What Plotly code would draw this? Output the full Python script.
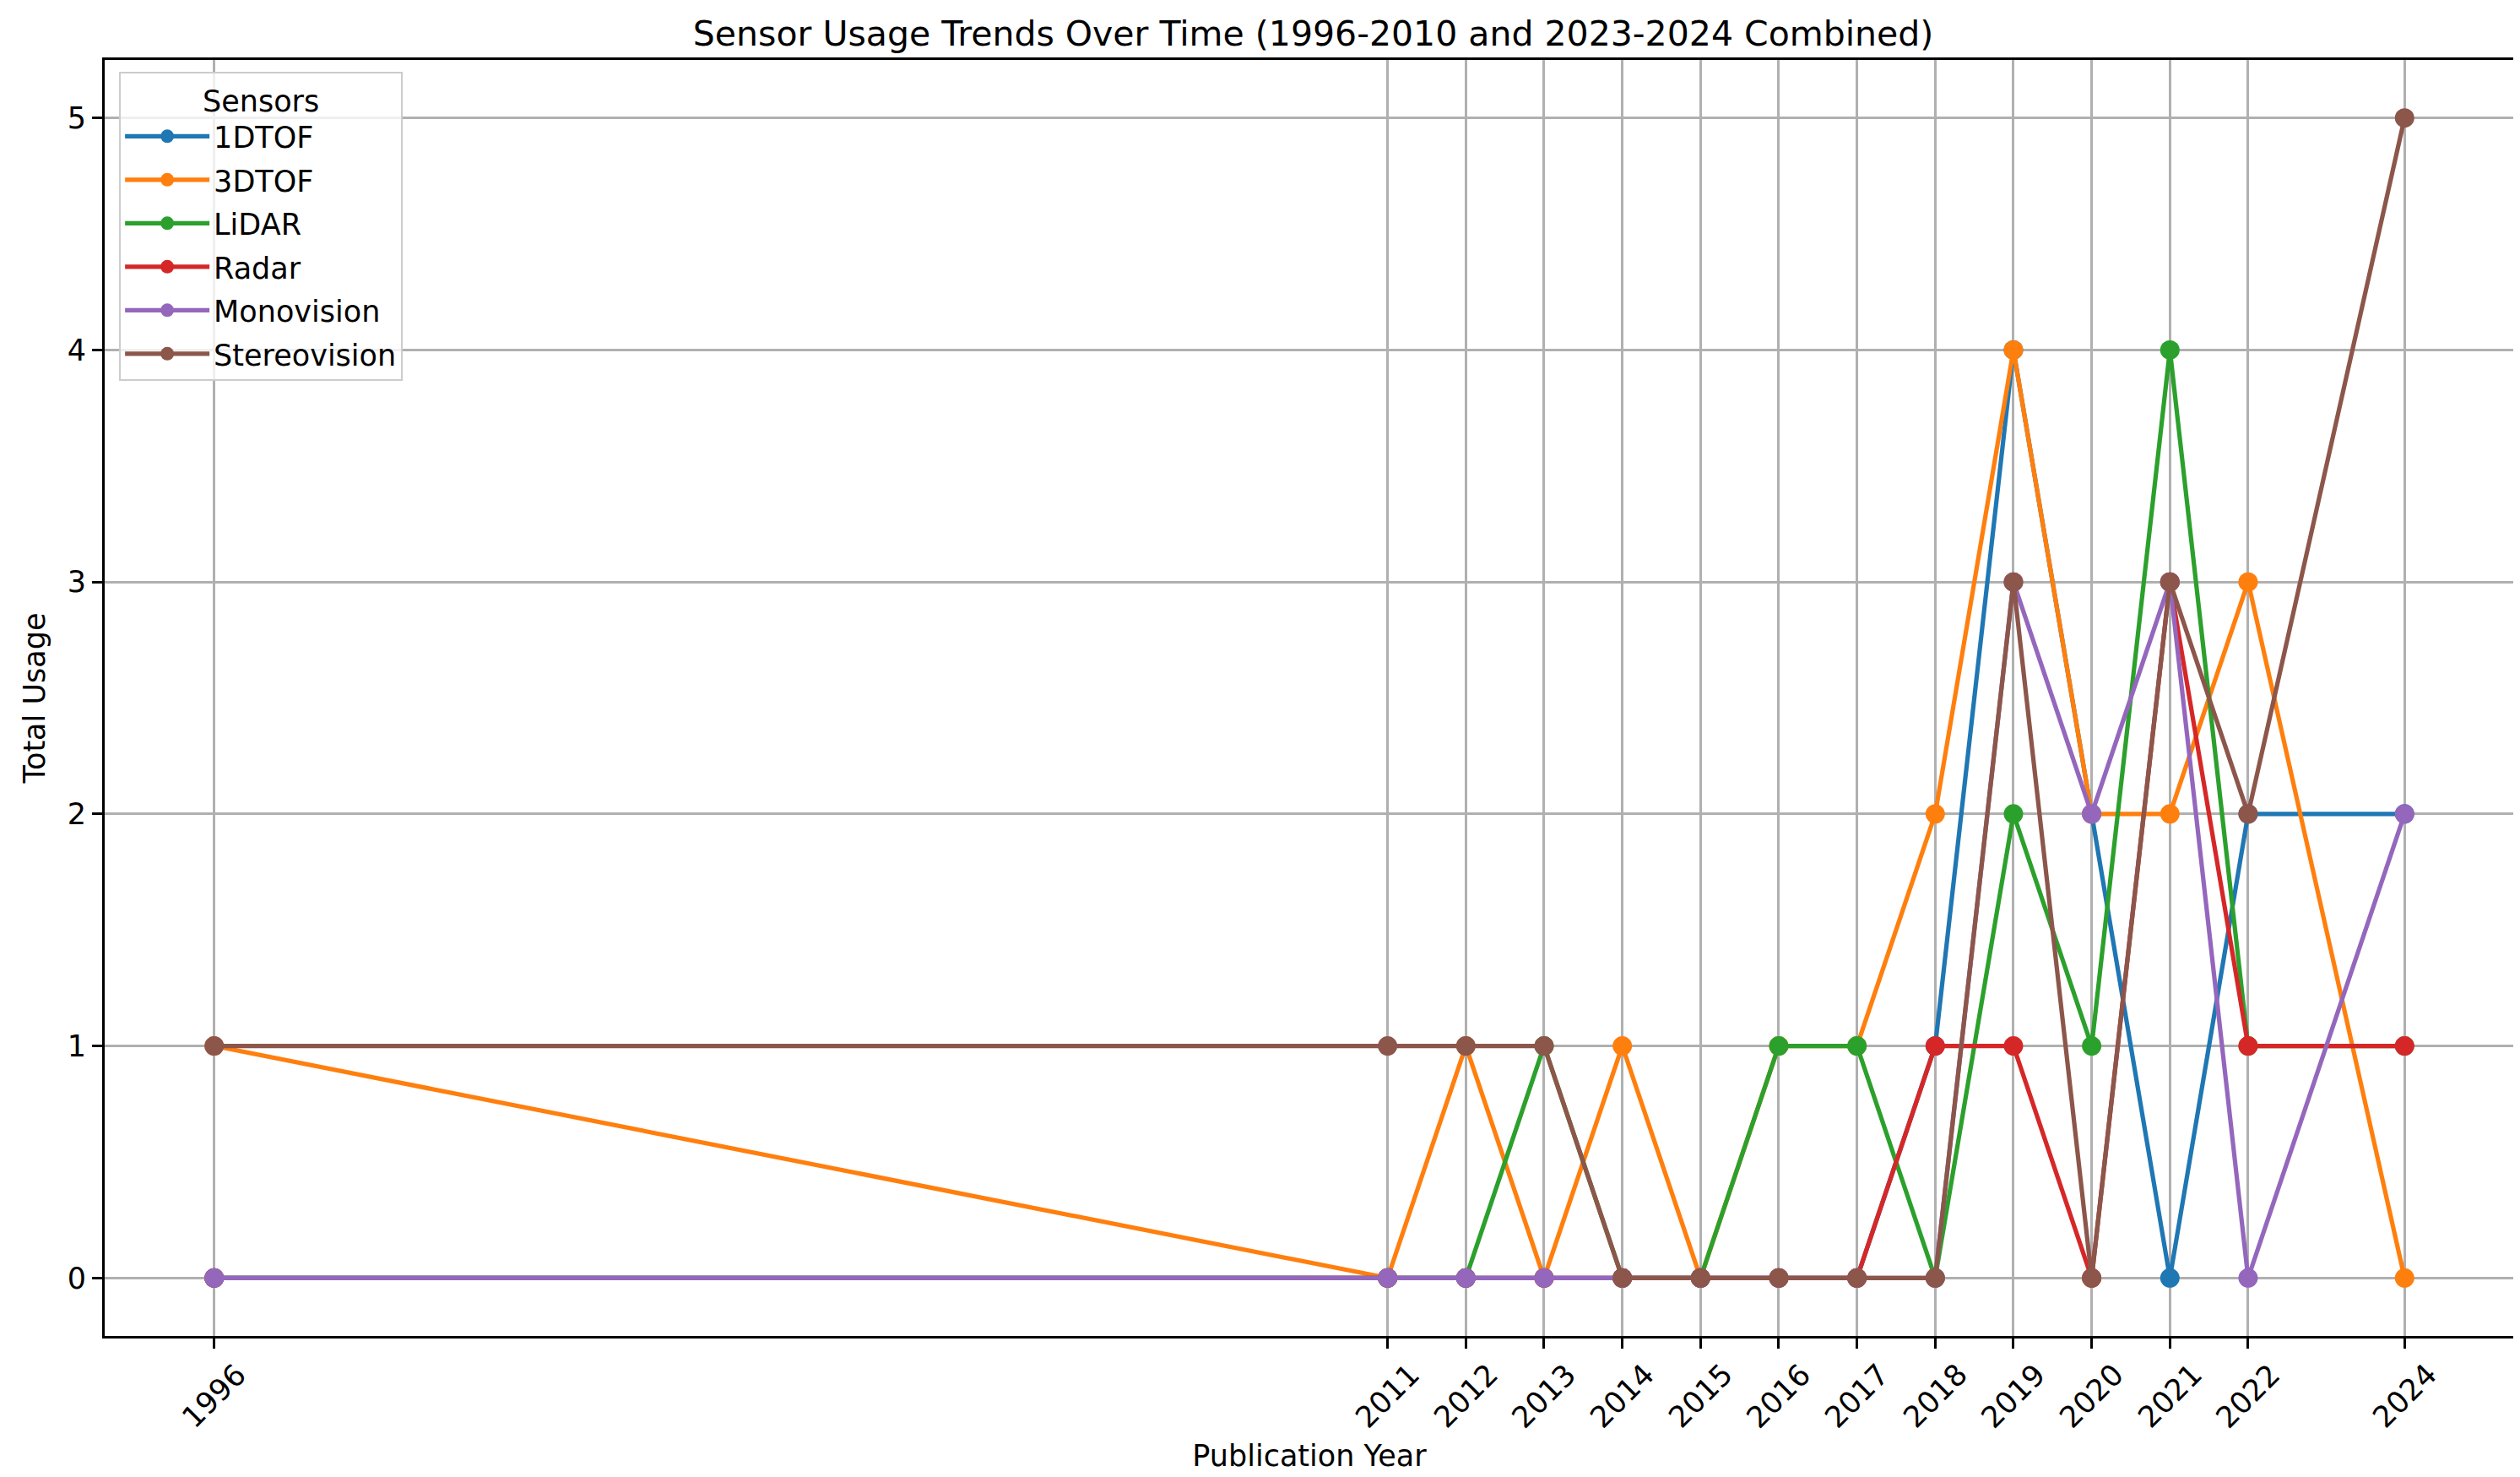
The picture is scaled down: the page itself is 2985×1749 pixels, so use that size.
import plotly.graph_objects as go

# Publication years (1996 stands for 1996-2010 combined, 2024 for 2023-2024)
years = [1996, 2011, 2012, 2013, 2014, 2015, 2016, 2017, 2018, 2019, 2020, 2021, 2022, 2024]

# Total usage per sensor per year
usage_1dtof = [0, 0, 0, 0, 0, 0, 0, 0, 1, 4, 2, 0, 2, 2]
usage_3dtof = [1, 0, 1, 0, 1, 0, 1, 1, 2, 4, 2, 2, 3, 0]
usage_lidar = [0, 0, 0, 1, 0, 0, 1, 1, 0, 2, 1, 4, 1, 1]
usage_radar = [0, 0, 0, 0, 0, 0, 0, 0, 1, 1, 0, 3, 1, 1]
usage_mono = [0, 0, 0, 0, 0, 0, 0, 0, 0, 3, 2, 3, 0, 2]
usage_stereo = [1, 1, 1, 1, 0, 0, 0, 0, 0, 3, 0, 3, 2, 5]

sensor_names = ['1DTOF', '3DTOF', 'LiDAR', 'Radar', 'Monovision', 'Stereovision']
sensor_colors = ['#1f77b4', '#ff7f0e', '#2ca02c', '#d62728', '#9467bd', '#8c564b']
sensor_values = [usage_1dtof, usage_3dtof, usage_lidar, usage_radar, usage_mono, usage_stereo]

FONT = 'DejaVu Sans'

fig = go.Figure()
for name, color, vals in zip(sensor_names, sensor_colors, sensor_values):
    fig.add_trace(go.Scatter(
        x=years, y=vals, name=name, legendgroup=name,
        mode='lines+markers',
        line=dict(color=color, width=5.2),
        marker=dict(color=color, size=23),
    ))

# rotated year labels, centred under each tick like matplotlib does
for yr in years:
    fig.add_annotation(
        x=yr, xref='x', y=-0.047, yref='paper',
        text=str(yr), textangle=-45, showarrow=False,
        xanchor='center', yanchor='middle',
        font=dict(family=FONT, size=35, color='black'),
    )

# page body adds a small offset, so the figure is sized to fit inside it
fig.update_layout(
    width=2979, height=1743,
    margin=dict(l=116, r=6, t=63, b=169),
    paper_bgcolor='white', plot_bgcolor='white',
    font=dict(family=FONT, size=35, color='black'),
    title=dict(
        text='Sensor Usage Trends Over Time (1996-2010 and 2023-2024 Combined)',
        x=0.5195, xanchor='center', y=0.982, yanchor='middle',
        font=dict(family=FONT, size=41, color='black'),
    ),
    legend=dict(
        title=dict(text='Sensors', side='top center', font=dict(size=35)),
        x=0.006, y=0.991, xanchor='left', yanchor='top',
        bgcolor='rgba(255,255,255,0.8)', bordercolor='#cccccc', borderwidth=2,
        font=dict(family=FONT, size=35),
        itemwidth=100, tracegroupgap=3,
    ),
    showlegend=True,
)

fig.update_xaxes(
    range=[1994.6, 2025.4],
    tickvals=years, showticklabels=False,
    ticks='outside', ticklen=12, tickwidth=2.8, tickcolor='black',
    showgrid=True, gridcolor='#b0b0b0', gridwidth=2.8,
    showline=True, linecolor='black', linewidth=2.8, mirror=True,
    zeroline=False,
    title=dict(text='Publication Year', standoff=116, font=dict(size=35)),
)
fig.update_yaxes(
    range=[-0.25, 5.25],
    tickvals=[0, 1, 2, 3, 4, 5],
    ticks='outside', ticklen=12, tickwidth=2.8, tickcolor='black',
    tickfont=dict(size=35),
    showgrid=True, gridcolor='#b0b0b0', gridwidth=2.8,
    showline=True, linecolor='black', linewidth=2.8, mirror=True,
    zeroline=False,
    title=dict(text='Total Usage', standoff=16, font=dict(size=35)),
)

fig.write_html('out.html')
